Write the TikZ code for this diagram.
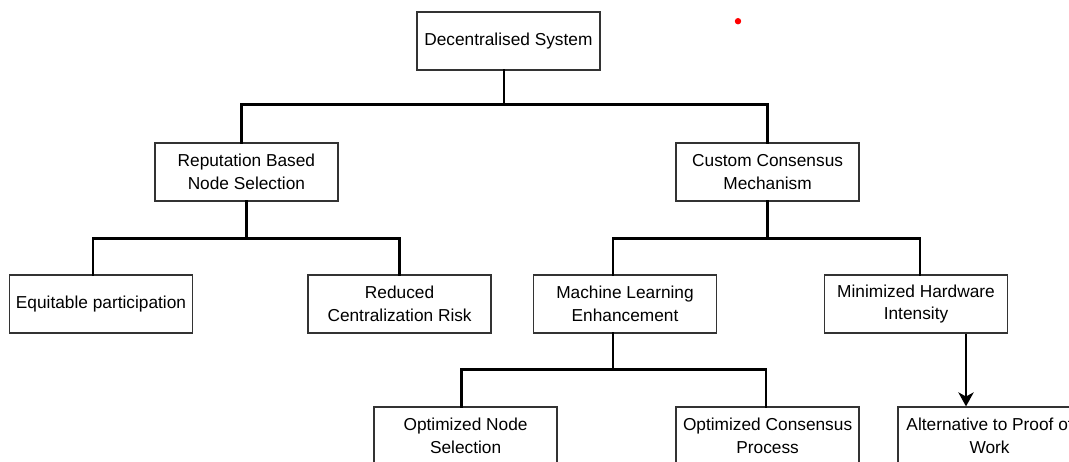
\documentclass[tikz,border=0pt]{standalone}
\usepackage{fontspec}
\setmainfont{Liberation Sans}
\usetikzlibrary{arrows.meta}
\tikzset{
  block/.style={draw=black!80, line width=0.9pt, fill=white, minimum width=4.575cm,
    minimum height=1.45cm, align=center, font=\fontsize{12.3}{16}\selectfont},
  conn/.style={line width=2pt, line cap=rect},
  arr/.style={line width=1pt, -{Stealth[length=10pt,width=11pt,inset=3pt]}}
}

\begin{document}
\begin{tikzpicture}
			%%%%% START %%%%%
			\useasboundingbox (0, 0) rectangle (26.725, -11.55);
			
			\node[block] (sys) at (12.71, -1.025) {Decentralised System};
			
			\node[block] (rep) at (6.16, -4.3) {Reputation Based\\Node Selection};
			\node[block] (ccm) at (19.19, -4.3) {Custom Consensus\\Mechanism};
			
			\node[block] (equ) at (2.525, -7.6) {Equitable participation};
			\node[block] (rcr) at (9.99, -7.6) {Reduced\\Centralization Risk};
			\node[block] (mle) at (15.625, -7.6) {Machine Learning\\Enhancement};
			\node[block] (mhi) at (22.9, -7.6) {Minimized Hardware\\Intensity};
			
			\node[block] (ons) at (11.64, -10.9) {Optimized Node\\Selection};
			\node[block] (ocp) at (19.19, -10.9) {Optimized Consensus\\Process};
			\node[block] (alt) at (24.74, -10.9) {Alternative to Proof of\\Work};
			
			% tree connectors
			\draw[conn] ([xshift=-0.11cm]sys.south) -- ++(0, -0.85) coordinate (j1);
			\draw[conn] ([xshift=-0.125cm]rep.north) |- (j1) -| (ccm.north);
			
			\draw[conn] (rep.south) -- ++(0, -0.925) coordinate (j2);
			\draw[conn] ([xshift=-0.2cm]equ.north) |- (j2) -| (rcr.north);
			
			\draw[conn] (ccm.south) -- ++(0, -0.925) coordinate (j3);
			\draw[conn] ([xshift=-0.3cm]mle.north) |- (j3) -| ([xshift=0.1cm]mhi.north);
			
			\draw[conn] ([xshift=-0.3cm]mle.south) -- ++(0, -0.9) coordinate (j4);
			\draw[conn] ([xshift=-0.11cm]ons.north) |- (j4) -| ([xshift=-0.04cm]ocp.north);
			
			\draw[arr] ([xshift=1.25cm]mhi.south) -- ([xshift=1.25cm]mhi.south |- alt.north);
			
			\fill[red] (18.45, -0.53) circle (0.08);
			%%%%% END %%%%%
\end{tikzpicture}
\end{document}
